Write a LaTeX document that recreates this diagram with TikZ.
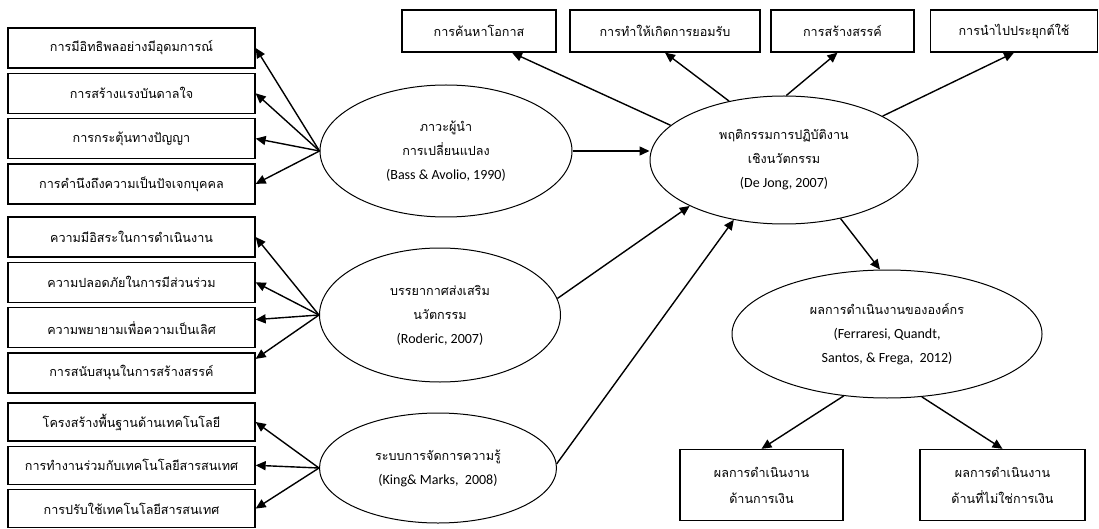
\documentclass[tikz,border=0pt]{standalone}
\usepackage{fontspec}
\setmainfont{Carlito}
\newfontfamily\thaifont[Script=Thai]{Loma}
\usetikzlibrary{arrows.meta,positioning,shapes.geometric}
\newcommand{\thx}[1]{{\thaifont #1}}
\newcommand{\srcnote}[1]{{\fontsize{14}{24}\selectfont #1}}
\tikzset{
  itemBox/.style={draw, line width=1.3pt, minimum width=247pt, minimum height=40pt, inner sep=2pt, font=\fontsize{12.6}{24}\selectfont, align=center},
  topBox/.style={draw, line width=1.3pt, minimum height=42pt, inner sep=2pt, font=\fontsize{12.6}{24}\selectfont, align=center},
  resultBox/.style={draw, line width=1.3pt, minimum height=71pt, inner sep=2pt, font=\fontsize{12.6}{26}\selectfont, align=center},
  conceptEll/.style={draw, ellipse, line width=1pt, inner sep=0pt, font=\fontsize{12.6}{24}\selectfont, align=center},
  linkArrow/.style={-{Triangle[length=10pt, width=9pt]}, line width=1.4pt}
}
\begin{document}
\begin{tikzpicture}[x=1pt, y=-1pt, node distance=4pt]
  \useasboundingbox (0,0) rectangle (1099,529);

  \node[itemBox] (lead1) at (131.5,48) {\thx{การมีอิทธิพลอย่างมีอุดมการณ์}};
  \node[itemBox, below=of lead1] (lead2) {\thx{การสร้างแรงบันดาลใจ}};
  \node[itemBox, below=of lead2] (lead3) {\thx{การกระตุ้นทางปัญญา}};
  \node[itemBox, below=of lead3] (lead4) {\thx{การคำนึงถึงความเป็นปัจเจกบุคคล}};

  \node[itemBox] (clim1) at (131.5,237) {\thx{ความมีอิสระในการดำเนินงาน}};
  \node[itemBox, below=of clim1] (clim2) {\thx{ความปลอดภัยในการมีส่วนร่วม}};
  \node[itemBox, below=of clim2] (clim3) {\thx{ความพยายามเพื่อความเป็นเลิศ}};
  \node[itemBox, below=of clim3] (clim4) {\thx{การสนับสนุนในการสร้างสรรค์}};

  \node[itemBox, minimum height=38pt] (know1) at (131.5,422) {\thx{โครงสร้างพื้นฐานด้านเทคโนโลยี}};
  \node[itemBox, minimum height=38pt, below=of know1] (know2) {\thx{การทำงานร่วมกับเทคโนโลยีสารสนเทศ}};
  \node[itemBox, minimum height=38pt, below=of know2] (know3) {\thx{การปรับใช้เทคโนโลยีสารสนเทศ}};

  \node[conceptEll, minimum width=252pt, minimum height=132pt] (leader) at (446,151) {\thx{ภาวะผู้นำ}\\ \thx{การเปลี่ยนแปลง}\\ \srcnote{(Bass \& Avolio, 1990)}};
  \node[conceptEll, minimum width=241pt, minimum height=134pt] (climate) at (440,315) {\thx{บรรยากาศส่งเสริม}\\ \thx{นวัตกรรม}\\ \srcnote{(Roderic, 2007)}};
  \node[conceptEll, minimum width=237pt, minimum height=110pt] (kms) at (438,468) {\thx{ระบบการจัดการความรู้}\\ \srcnote{(King\& Marks,\ \ 2008)}};
  \node[conceptEll, minimum width=268pt, minimum height=128pt] (behav) at (784,160) {\thx{พฤติกรรมการปฏิบัติงาน}\\ \thx{เชิงนวัตกรรม}\\ \srcnote{(De Jong, 2007)}};
  \node[conceptEll, minimum width=310pt, minimum height=128pt] (perf) at (887,334) {\thx{ผลการดำเนินงานขององค์กร}\\ \srcnote{(Ferraresi, Quandt,}\\ \srcnote{Santos, \& Frega,\ \ 2012)}};

  \node[topBox, minimum width=154pt] (opp) at (479,31) {\thx{การค้นหาโอกาส}};
  \node[topBox, minimum width=190pt] (accept) at (665,31) {\thx{การทำให้เกิดการยอมรับ}};
  \node[topBox, minimum width=143pt] (create) at (842.5,31) {\thx{การสร้างสรรค์}};
  \node[topBox, minimum width=167pt] (apply) at (1014,31) {\thx{การนำไปประยุกต์ใช้}};

  \node[resultBox, minimum width=163pt] (fin) at (761.5,485) {\thx{ผลการดำเนินงาน}\\ \thx{ด้านการเงิน}};
  \node[resultBox, minimum width=165pt] (nonfin) at (1002.5,485) {\thx{ผลการดำเนินงาน}\\ \thx{ด้านที่ไม่ใช่การเงิน}};

  \foreach \b in {lead1,lead2,lead3,lead4}
    \draw[linkArrow] (leader.west) -- (\b.east);
  \draw[linkArrow] (climate.west) -- (clim1.east);
  \draw[linkArrow] (climate.west) -- (clim2.east);
  \draw[linkArrow] (climate.west) -- ([yshift=8pt]clim3.east);
  \draw[linkArrow] (climate.west) -- ([yshift=14pt]clim4.east);
  \foreach \b in {know1,know2,know3}
    \draw[linkArrow] (kms.west) -- (\b.east);

  \draw[linkArrow] (leader.east) -- (leader.east -| behav.west);
  \draw[linkArrow] (climate.8) -- (behav.206);
  \draw[linkArrow] (kms.2) -- (behav.230);

  \draw[linkArrow] (behav.163) -- ([xshift=33pt]opp.south);
  \draw[linkArrow] (behav.133) -- (accept.south);
  \draw[linkArrow] (behav.88) -- ([xshift=-5pt]create.south);
  \draw[linkArrow] (behav.24) -- (apply.south);
  \draw[linkArrow] (behav.314) -- ([xshift=-7pt]perf.north);

  \draw[linkArrow] (perf.235) -- (fin.north);
  \draw[linkArrow] (perf.299) -- (nonfin.north);
\end{tikzpicture}
\end{document}
